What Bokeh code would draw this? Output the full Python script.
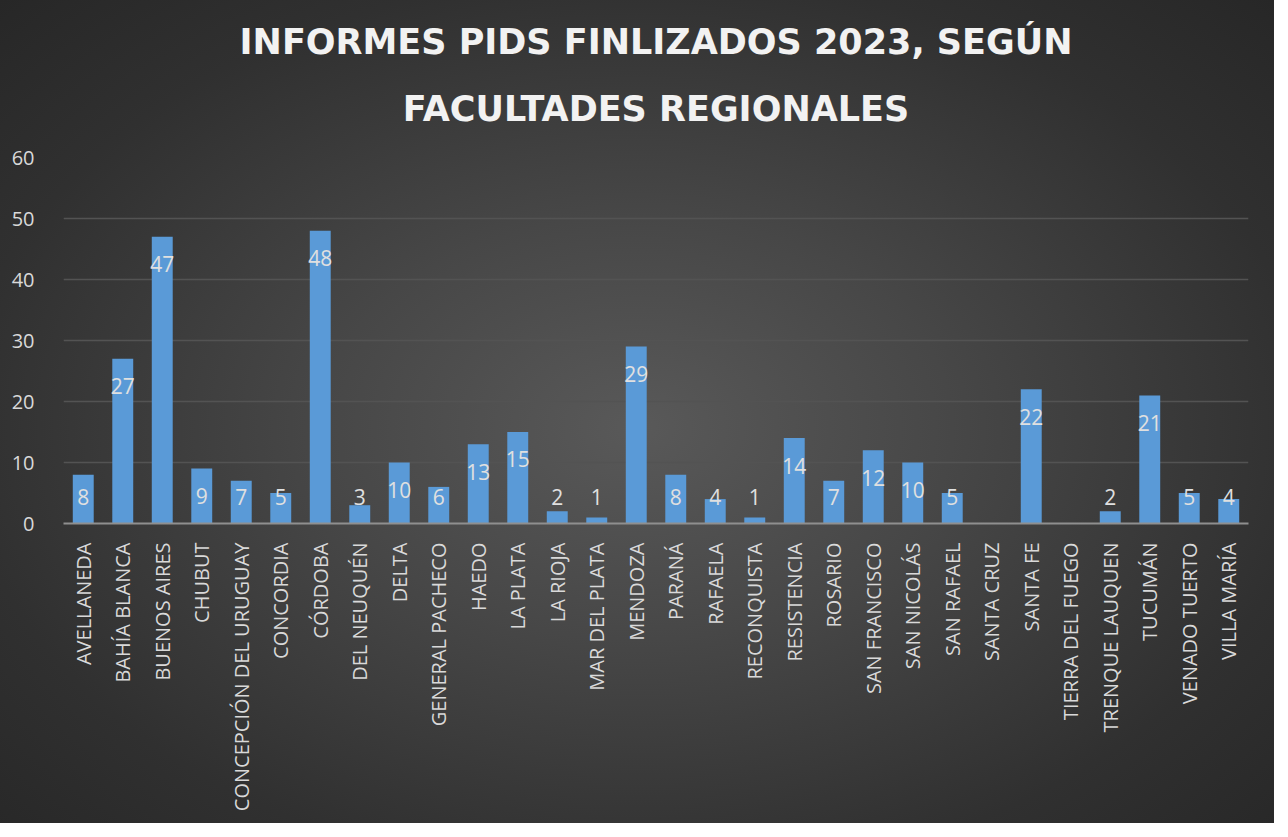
import numpy as np
from bokeh.plotting import figure
from bokeh.models import ColumnDataSource, FixedTicker, Title
from bokeh.embed import file_html
from bokeh.resources import INLINE
from bokeh.core.properties import value

categories = ["AVELLANEDA", "BAHÍA BLANCA", "BUENOS AIRES", "CHUBUT", "CONCEPCIÓN DEL URUGUAY",
              "CONCORDIA", "CÓRDOBA", "DEL NEUQUÉN", "DELTA", "GENERAL PACHECO", "HAEDO",
              "LA PLATA", "LA RIOJA", "MAR DEL PLATA", "MENDOZA", "PARANÁ", "RAFAELA",
              "RECONQUISTA", "RESISTENCIA", "ROSARIO", "SAN FRANCISCO", "SAN NICOLÁS",
              "SAN RAFAEL", "SANTA CRUZ", "SANTA FE", "TIERRA DEL FUEGO", "TRENQUE LAUQUEN",
              "TUCUMÁN", "VENADO TUERTO", "VILLA MARÍA"]
values = [8, 27, 47, 9, 7, 5, 48, 3, 10, 6, 13, 15, 2, 1, 29, 8, 4, 1, 14, 7, 12, 10, 5,
          float("nan"), 22, float("nan"), 2, 21, 5, 4]
y_ticks = [0, 10, 20, 30, 40, 50, 60]
title_line1 = "INFORMES PIDS FINLIZADOS 2023, SEGÚN"
title_line2 = "FACULTADES REGIONALES"

vals = np.array(values, dtype=float)
label_pos = np.maximum(vals - 4.5, 4.3)
labels = ["" if np.isnan(v) else str(int(v)) for v in vals]

src = ColumnDataSource(dict(cat=categories, val=vals, ly=label_pos, lab=labels))

p = figure(x_range=categories, y_range=(0, 60), width=1274, height=823,
           output_backend="svg", toolbar_location=None,
           min_border_left=63, min_border_right=26, min_border_top=157, min_border_bottom=300)

p.styles = {"background": "radial-gradient(ellipse at 50% 52%, #595959 0%, #474747 35%, #303030 75%, #272727 100%)"}
p.background_fill_alpha = 0
p.border_fill_alpha = 0
p.outline_line_color = None

p.vbar(x="cat", top="val", width=0.53, source=src, fill_color="#5a9ad7", line_color=None)
p.text(x="cat", y="ly", text="lab", source=src, text_align="center", text_baseline="middle",
       text_color="#e0e0e0", text_font=value("Open Sans"), text_font_size="21px")

t2 = Title(text=title_line2, align="center", vertical_align="top", text_color="#f2f2f2",
           text_font="DejaVu Sans", text_font_style="bold", text_font_size="35px", standoff=54)
t1 = Title(text=title_line1, align="center", vertical_align="bottom", text_color="#f2f2f2",
           text_font="DejaVu Sans", text_font_style="bold", text_font_size="35px", standoff=0)
p.add_layout(t2, "above")
p.add_layout(t1, "above")
p.title.visible = False

p.xgrid.grid_line_color = None
p.ygrid.grid_line_color = "#535353"
p.ygrid.grid_line_width = 1.5

p.yaxis.ticker = FixedTicker(ticks=y_ticks)
p.yaxis.axis_line_color = None
p.yaxis.major_tick_line_color = None
p.yaxis.minor_tick_line_color = None
p.yaxis.major_label_text_color = "#d9d9d9"
p.yaxis.major_label_text_font = "Open Sans"
p.yaxis.major_label_text_font_size = "20px"
p.yaxis.major_label_standoff = 23

p.xaxis.axis_line_color = "#8f8f8f"
p.xaxis.axis_line_width = 2
p.xaxis.major_tick_line_color = None
p.xaxis.minor_tick_line_color = None
p.xaxis.major_label_orientation = np.pi / 2
p.xaxis.major_label_text_color = "#d9d9d9"
p.xaxis.major_label_text_font = "Open Sans"
p.xaxis.major_label_text_font_size = "20px"
p.xaxis.major_label_standoff = 13
p.x_range.range_padding = 0

open("out.html", "w").write(file_html(p, INLINE))
